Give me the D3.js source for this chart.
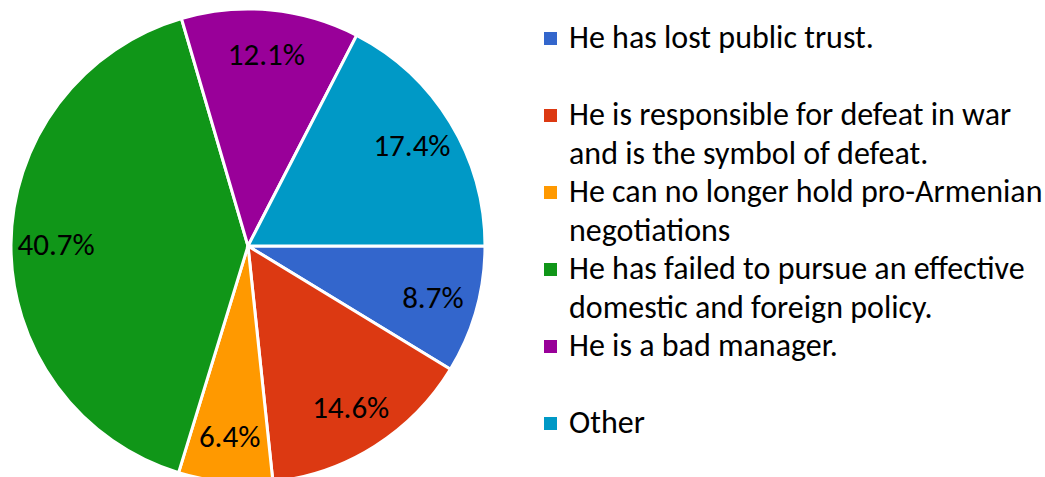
<!DOCTYPE html>
<html lang="en">

<head>
  <meta charset="UTF-8" />
  <title>Pie chart</title>
  <script src="https://d3js.org/d3.v7.min.js"></script>
  <style>
    body { margin: 0; background: #fff; }
    svg text { font-family: Calibri, Carlito, "Open Sans", sans-serif; fill: #000; }
  </style>
</head>

<body>
  <svg id="chart" width="1045" height="477"></svg>

  <script>
    // slice data, clockwise from 3 o'clock
    const categories = [
      ["He has lost public trust."],
      ["He is responsible for defeat in war", "and is the symbol of defeat."],
      ["He can no longer hold pro-Armenian", "negotiations"],
      ["He has failed to pursue an effective", "domestic and foreign policy."],
      ["He is a bad manager."],
      ["Other"]
    ];
    const values = [8.7, 14.6, 6.4, 40.7, 12.1, 17.4];
    const colors = ["#3366cc", "#dc3912", "#ff9900", "#109618", "#990099", "#0099c6"];

    const svg = d3.select("#chart");
    const cx = 248, cy = 246, radius = 237;

    const pie = d3.pie()
      .sort(null)
      .value(d => d)
      .startAngle(Math.PI / 2)
      .endAngle(Math.PI / 2 + 2 * Math.PI);

    const arc = d3.arc().innerRadius(0).outerRadius(radius);
    const labelArc = d3.arc().innerRadius(radius * 0.81).outerRadius(radius * 0.81);

    const g = svg.append("g").attr("transform", `translate(${cx},${cy})`);
    const arcs = pie(values);

    g.selectAll("path")
      .data(arcs)
      .enter()
      .append("path")
      .attr("d", arc)
      .attr("fill", (d, i) => colors[i])
      .attr("stroke", "#fff")
      .attr("stroke-width", 3);

    g.selectAll("text.pct")
      .data(arcs)
      .enter()
      .append("text")
      .attr("class", "pct")
      .attr("transform", d => `translate(${labelArc.centroid(d)})`)
      .attr("text-anchor", "middle")
      .attr("dy", "0.33em")
      .style("font-size", "31px")
      .text(d => d.data.toFixed(1) + "%");

    // legend
    const legend = svg.append("g").attr("transform", "translate(544,48)");
    const item = legend.selectAll("g")
      .data(categories)
      .enter()
      .append("g")
      .attr("transform", (d, i) => `translate(0,${i * 77})`);

    item.append("rect")
      .attr("x", 0)
      .attr("y", -16)
      .attr("width", 13)
      .attr("height", 13)
      .attr("fill", (d, i) => colors[i]);

    item.append("text")
      .attr("x", 25)
      .style("font-size", "32px")
      .selectAll("tspan")
      .data(d => d)
      .enter()
      .append("tspan")
      .attr("x", 25)
      .attr("dy", (d, i) => i === 0 ? 0 : 38.5)
      .text(d => d);
  </script>
</body>

</html>
